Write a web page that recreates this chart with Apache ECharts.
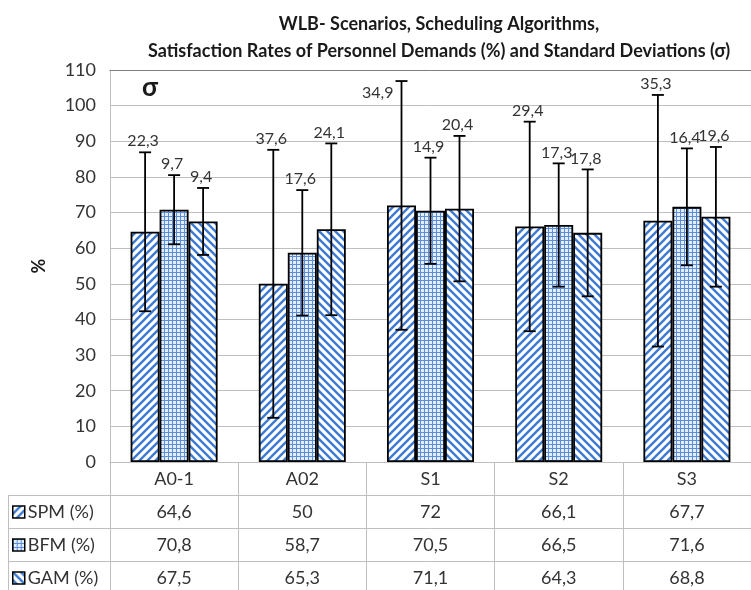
<!DOCTYPE html>
<html>
<head>
<meta charset="utf-8">
<script src="https://cdn.jsdelivr.net/npm/echarts@6/dist/echarts.min.js"></script>
<style>
  html, body { margin: 0; padding: 0; background: #fff; }
  #chart { width: 751px; height: 590px; }
</style>
</head>
<body>
<div id="chart"></div>
<script>
// data
var categories = ['A0-1', 'A02', 'S1', 'S2', 'S3'];
var seriesNames = ['SPM (%)', 'BFM (%)', 'GAM (%)'];
var spmValues = [64.6, 50, 72, 66.1, 67.7];
var bfmValues = [70.8, 58.7, 70.5, 66.5, 71.6];
var gamValues = [67.5, 65.3, 71.1, 64.3, 68.8];
var spmSigma = [22.3, 37.6, 34.9, 29.4, 35.3];
var bfmSigma = [9.7, 17.6, 14.9, 17.3, 16.4];
var gamSigma = [9.4, 24.1, 20.4, 17.8, 19.6];
var yMin = 0, yMax = 110, yStep = 10;

var FONT = 'Lato';
var TEXT = '#333333';
var GRID_LINE = '#bfbfbf';
var BAR_W = 29;
var ROW_H = 33;

// comma decimals like the original
function fmt(v) {
    return String(v).replace('.', ',');
}

// hatch patterns
function stripes(dir) {
    var c = document.createElement('canvas');
    c.width = 8; c.height = 8;
    var ctx = c.getContext('2d');
    ctx.fillStyle = '#fff';
    ctx.fillRect(0, 0, 8, 8);
    ctx.strokeStyle = '#3f7bd3';
    ctx.lineWidth = 2.4;
    ctx.beginPath();
    if (dir === '/') {
        ctx.moveTo(-2, 10); ctx.lineTo(10, -2);
        ctx.moveTo(-2, 2); ctx.lineTo(2, -2);
        ctx.moveTo(6, 10); ctx.lineTo(10, 6);
    } else {
        ctx.moveTo(-2, -2); ctx.lineTo(10, 10);
        ctx.moveTo(-2, 6); ctx.lineTo(2, 10);
        ctx.moveTo(6, -2); ctx.lineTo(10, 2);
    }
    ctx.stroke();
    return c;
}

function grid() {
    var c = document.createElement('canvas');
    c.width = 4; c.height = 4;
    var ctx = c.getContext('2d');
    ctx.fillStyle = '#e4edfa';
    ctx.fillRect(0, 0, 4, 4);
    ctx.fillStyle = '#5b8fdc';
    ctx.fillRect(0, 0, 4, 1);
    ctx.fillRect(0, 0, 1, 4);
    return c;
}

var patterns = [stripes('/'), grid(), stripes('\\')];
var barValues = [spmValues, bfmValues, gamValues];
var sigmas = [spmSigma, bfmSigma, gamSigma];

var errData = [];
for (var s = 0; s < 3; s++) {
    for (var i = 0; i < categories.length; i++) {
        errData.push([i, barValues[s][i], sigmas[s][i], s]);
    }
}

var chart = echarts.init(document.getElementById('chart'));

var series = seriesNames.map(function (name, k) {
    return {
        name: name,
        type: 'bar',
        barWidth: BAR_W,
        barGap: '0%',
        data: barValues[k],
        itemStyle: {
            color: { image: patterns[k], repeat: 'repeat' },
            borderColor: '#000',
            borderWidth: 1.8
        },
        z: 2
    };
});

// error bars with sigma labels
series.push({
    type: 'custom',
    name: 'sigma',
    data: errData,
    z: 5,
    renderItem: function (params, api) {
        var idx = api.value(0), mean = api.value(1), sd = api.value(2), k = api.value(3);
        var top = api.coord([idx, mean + sd]);
        var bot = api.coord([idx, mean - sd]);
        var x = top[0] + (k - 1) * BAR_W;
        var cap = 6;
        // label would leave the plot: put it beside the whisker instead
        var tight = mean + sd > yMax - 4.5;
        var label = tight
            ? { x: x - 8, y: top[1] + 4, align: 'right', verticalAlign: 'top' }
            : { x: x - 2, y: top[1] - 3, align: 'center', verticalAlign: 'bottom' };
        var line = { stroke: '#000', lineWidth: 1.8 };
        return {
            type: 'group',
            children: [
                { type: 'line', shape: { x1: x, y1: top[1], x2: x, y2: bot[1] }, style: line },
                { type: 'line', shape: { x1: x - cap, y1: top[1], x2: x + cap, y2: top[1] }, style: line },
                { type: 'line', shape: { x1: x - cap, y1: bot[1], x2: x + cap, y2: bot[1] }, style: line },
                {
                    type: 'text',
                    x: label.x, y: label.y,
                    style: {
                        text: fmt(sd), fill: TEXT, font: '16px ' + FONT,
                        align: label.align, verticalAlign: label.verticalAlign
                    }
                }
            ]
        };
    }
});

function tableAxis(values, offset) {
    return {
        type: 'category',
        position: 'bottom',
        offset: offset,
        data: values.map(fmt),
        axisLine: { show: true, lineStyle: { color: GRID_LINE, width: 1 } },
        axisTick: { show: true, length: ROW_H, interval: 0, lineStyle: { color: GRID_LINE } },
        axisLabel: { fontFamily: FONT, fontSize: 18, color: TEXT, margin: 8, interval: 0 },
        splitLine: { show: false }
    };
}

// one legend per table row
var legends = seriesNames.map(function (name, k) {
    return {
        data: [name],
        left: 12,
        top: 462 + ROW_H * (k + 1) + 8,
        padding: 0,
        itemWidth: 12,
        itemHeight: 12,
        itemGap: 4,
        selectedMode: false,
        icon: 'rect',
        itemStyle: { borderColor: '#000', borderWidth: 1.5 },
        textStyle: { fontFamily: FONT, fontSize: 18, color: TEXT, padding: [0, 0, 0, -2] }
    };
});

var option = {
    animation: false,
    textStyle: { fontFamily: FONT },
    title: {
        text: 'WLB- Scenarios, Scheduling Algorithms,\nSatisfaction Rates of Personnel Demands (%) and Standard Deviations (σ)',
        left: 434,
        top: 6,
        textAlign: 'center',
        textStyle: { fontFamily: FONT, fontSize: 18, fontWeight: 'bold', color: '#1a1a1a', lineHeight: 27 }
    },
    legend: legends,
    grid: { left: 110, right: -5, top: 70, bottom: 128 },
    xAxis: [
        {
            type: 'category',
            position: 'bottom',
            data: categories,
            axisLine: { show: true, lineStyle: { color: GRID_LINE } },
            axisTick: { show: true, length: ROW_H, interval: 0, lineStyle: { color: GRID_LINE } },
            axisLabel: { fontFamily: FONT, fontSize: 18, color: TEXT, margin: 8, interval: 0 }
        },
        tableAxis(spmValues, ROW_H),
        tableAxis(bfmValues, ROW_H * 2),
        tableAxis(gamValues, ROW_H * 3),
        {
            type: 'category',
            position: 'top',
            data: categories,
            axisLine: { show: true, lineStyle: { color: '#7f7f7f' } },
            axisTick: { show: false },
            axisLabel: { show: false }
        }
    ],
    yAxis: {
        type: 'value',
        min: yMin,
        max: yMax,
        interval: yStep,
        name: '%',
        nameLocation: 'middle',
        nameRotate: 90,
        nameGap: 62,
        nameTextStyle: { fontFamily: FONT, fontSize: 18, fontWeight: 'bold', color: '#1a1a1a' },
        axisLine: { show: true, lineStyle: { color: GRID_LINE } },
        axisTick: { show: false },
        axisLabel: { fontFamily: FONT, fontSize: 18, color: TEXT, margin: 14 },
        splitLine: { lineStyle: { color: GRID_LINE, width: 1 } }
    },
    graphic: [
        { type: 'text', left: 142, top: 75, style: { text: 'σ', font: 'bold 26px ' + FONT, fill: '#1a1a1a' } },
        // left column of the data table
        { type: 'line', shape: { x1: 8, y1: 495.5, x2: 110, y2: 495.5 }, style: { stroke: GRID_LINE, lineWidth: 1 } },
        { type: 'line', shape: { x1: 8, y1: 528.5, x2: 110, y2: 528.5 }, style: { stroke: GRID_LINE, lineWidth: 1 } },
        { type: 'line', shape: { x1: 8, y1: 561.5, x2: 110, y2: 561.5 }, style: { stroke: GRID_LINE, lineWidth: 1 } },
        { type: 'line', shape: { x1: 8.5, y1: 495, x2: 8.5, y2: 590 }, style: { stroke: GRID_LINE, lineWidth: 1 } },
        { type: 'line', shape: { x1: 110.5, y1: 462, x2: 110.5, y2: 590 }, style: { stroke: GRID_LINE, lineWidth: 1 } }
    ],
    series: series
};

chart.setOption(option);
</script>
</body>
</html>
